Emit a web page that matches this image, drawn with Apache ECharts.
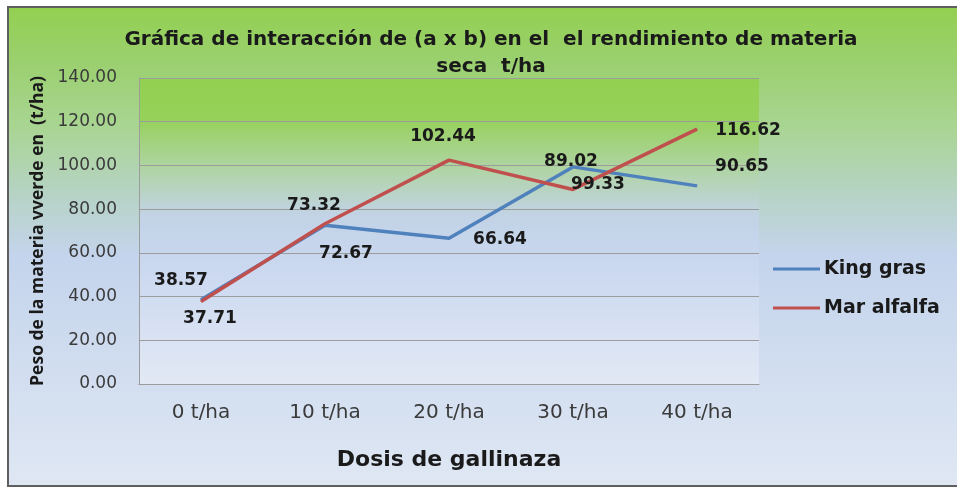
<!DOCTYPE html>
<html>
<head>
<meta charset="utf-8">
<script src="https://cdn.jsdelivr.net/npm/echarts@6/dist/echarts.min.js"></script>
<style>
  html, body { margin: 0; padding: 0; background: #ffffff; }
  #chart { width: 957px; height: 487px; }
</style>
</head>
<body>
<div id="chart"></div>
<script>
var categories = ['0 t/ha', '10 t/ha', '20 t/ha', '30 t/ha', '40 t/ha'];
var kingGras = [38.57, 72.67, 66.64, 99.33, 90.65];
var marAlfalfa = [37.71, 73.32, 102.44, 89.02, 116.62];
var yTicks = [0, 20, 40, 60, 80, 100, 120, 140];

// where each value label sits relative to its point (px)
var kingOffsets = [[-20, -19], [21, 28], [51, 1], [25, 18], [45, -19]];
var marOffsets = [[9, 17], [-11, -18], [-6, -24], [-2, -28], [51, 1]];

var blue = '#4f81bd';
var red = '#c0504d';
var ink = '#1a1a1a';
var muted = '#3a3a3a';
var rule = '#9c9c9c';
var labelFont = 'DejaVu Sans';

function withLabels(values, offsets) {
  return values.map(function (v, i) {
    return { value: v, label: { offset: offsets[i] } };
  });
}

var chart = echarts.init(document.getElementById('chart'));
chart.setOption({
  animation: false,
  graphic: [{
    type: 'rect',
    z: -100,
    shape: { x: 8, y: 7, width: 960, height: 479 },
    style: {
      fill: new echarts.graphic.LinearGradient(0, 0, 0, 1, [
        { offset: 0, color: '#92d050' },
        { offset: 0.12, color: '#9bd070' },
        { offset: 0.25, color: '#a9d592' },
        { offset: 0.4, color: '#b7d3c8' },
        { offset: 0.52, color: '#c4d4ec' },
        { offset: 1, color: '#dfe7f3' }
      ]),
      stroke: '#5f5f5f',
      lineWidth: 2
    }
  }],
  title: {
    text: 'Gráfica de interacción de (a x b) en el  el rendimiento de materia\nseca  t/ha',
    left: 486,
    textAlign: 'center',
    top: 21,
    textStyle: {
      fontFamily: labelFont,
      fontSize: 20,
      fontWeight: 'bold',
      color: ink,
      lineHeight: 27
    }
  },
  legend: {
    orient: 'vertical',
    left: 768,
    top: 254,
    itemWidth: 47,
    itemHeight: 3,
    itemGap: 19,
    icon: 'rect',
    textStyle: {
      fontFamily: labelFont,
      fontSize: 19,
      fontWeight: 'bold',
      color: ink,
      lineHeight: 20,
      padding: [0, 0, 0, -1]
    },
    data: ['King gras', 'Mar alfalfa']
  },
  grid: {
    left: 139,
    right: 198,
    top: 78,
    bottom: 103,
    show: true,
    borderWidth: 0,
    backgroundColor: new echarts.graphic.LinearGradient(0, 0, 0, 1, [
      { offset: 0, color: '#92d050' },
      { offset: 0.13, color: '#96d15a' },
      { offset: 0.3, color: '#b0d4a6' },
      { offset: 0.45, color: '#c2d3e6' },
      { offset: 0.6, color: '#c9d7ef' },
      { offset: 1, color: '#e2e9f5' }
    ])
  },
  xAxis: {
    type: 'category',
    data: categories,
    boundaryGap: true,
    name: 'Dosis de gallinaza',
    nameLocation: 'middle',
    nameGap: 65,
    nameTextStyle: { fontFamily: labelFont, fontSize: 22, fontWeight: 'bold', color: ink },
    axisLine: { lineStyle: { color: rule, width: 1 } },
    axisTick: { show: false },
    axisLabel: { fontFamily: labelFont, fontSize: 20, color: muted, margin: 19 }
  },
  yAxis: {
    type: 'value',
    min: yTicks[0],
    max: yTicks[yTicks.length - 1],
    interval: yTicks[1] - yTicks[0],
    name: 'Peso de la materia vverde en  (t/ha)',
    nameLocation: 'middle',
    nameGap: 92,
    nameTextStyle: { fontFamily: 'Open Sans', fontSize: 17.5, fontWeight: 'bold', color: ink },
    axisLine: { show: true, lineStyle: { color: rule, width: 1 } },
    axisTick: { show: false },
    axisLabel: {
      fontFamily: labelFont,
      fontSize: 17,
      color: muted,
      margin: 22,
      formatter: function (v) { return v.toFixed(2); }
    },
    splitLine: { lineStyle: { color: rule, width: 1 } }
  },
  series: [
    {
      name: 'King gras',
      type: 'line',
      data: withLabels(kingGras, kingOffsets),
      symbol: 'circle',
      symbolSize: 1,
      lineStyle: { color: blue, width: 3.5 },
      itemStyle: { color: blue },
      label: {
        show: true,
        position: 'inside',
        fontFamily: labelFont,
        fontSize: 17,
        fontWeight: 'bold',
        color: ink,
        formatter: function (p) { return p.value.toFixed(2); }
      }
    },
    {
      name: 'Mar alfalfa',
      type: 'line',
      data: withLabels(marAlfalfa, marOffsets),
      symbol: 'circle',
      symbolSize: 1,
      lineStyle: { color: red, width: 3.5 },
      itemStyle: { color: red },
      label: {
        show: true,
        position: 'inside',
        fontFamily: labelFont,
        fontSize: 17,
        fontWeight: 'bold',
        color: ink,
        formatter: function (p) { return p.value.toFixed(2); }
      }
    }
  ]
});
window.addEventListener('resize', function () { chart.resize(); });
</script>
</body>
</html>
